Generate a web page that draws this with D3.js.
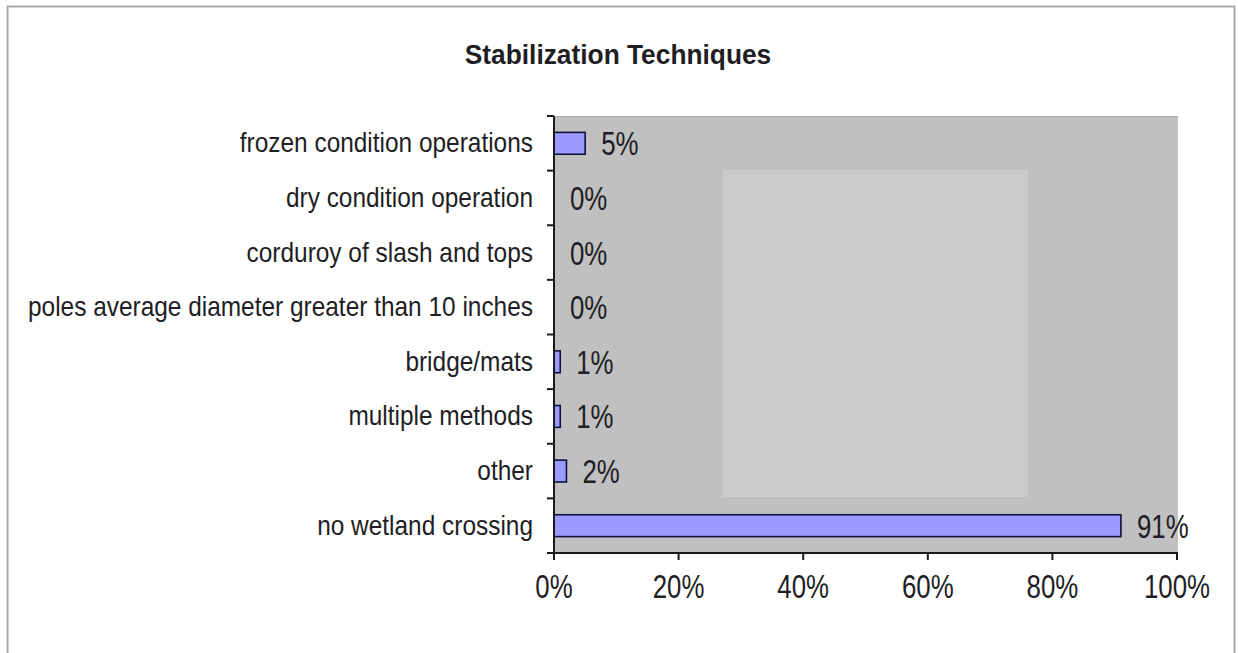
<!DOCTYPE html>
<html>
<head>
<meta charset="utf-8">
<script src="https://cdn.jsdelivr.net/npm/d3@7"></script>
<style>
  html, body { margin: 0; padding: 0; background: #fff; }
  svg { display: block; }
  text { font-family: "Liberation Sans", Arial, sans-serif; fill: #1e1e24; }
</style>
</head>
<body>
<svg id="chart" width="1238" height="653"></svg>
<script>
// Share of operations by wetland stabilization technique
const categories = [
  "frozen condition operations",
  "dry condition operation",
  "corduroy of slash and tops",
  "poles average diameter greater than 10 inches",
  "bridge/mats",
  "multiple methods",
  "other",
  "no wetland crossing"
];
const shares = [5, 0, 0, 0, 1, 1, 2, 91];
const xTicks = [0, 20, 40, 60, 80, 100];
const title = "Stabilization Techniques";

const svg = d3.select("#chart");
const plot = { left: 554, right: 1178, top: 116, bottom: 553 };

// place a text at (px, py) and narrow its glyphs horizontally by factor f
function placeNarrow(sel, px, py, f) {
  sel.attr("x", 0).attr("y", 0)
    .attr("transform", (d, i) => `translate(${px(d, i)},${py(d, i)}) scale(${f},1)`);
}

// outer frame
svg.append("rect")
  .attr("x", 7.5).attr("y", 6.5).attr("width", 1227).attr("height", 660)
  .attr("fill", "#fff").attr("stroke", "#a9a9a9").attr("stroke-width", 2);

// title
svg.append("text")
  .attr("text-anchor", "middle")
  .style("font-size", "28px").style("font-weight", "bold")
  .text(title)
  .call(placeNarrow, () => 618, () => 64, 0.94);

const x = d3.scaleLinear().domain([0, 100]).range([plot.left, plot.right - 1]);
const y = d3.scaleBand().domain(categories).range([plot.top, plot.bottom])
  .paddingInner(0.6).paddingOuter(0.3);

// plot background
svg.append("rect")
  .attr("x", plot.left).attr("y", plot.top)
  .attr("width", plot.right - plot.left).attr("height", plot.bottom - plot.top)
  .attr("fill", "#c0c0c0");
svg.append("line")
  .attr("x1", plot.left).attr("x2", plot.right)
  .attr("y1", plot.top + 0.5).attr("y2", plot.top + 0.5)
  .attr("stroke", "#a8a8a8").attr("stroke-width", 1);
// lighter panel inside the plot area
svg.append("rect")
  .attr("x", 723).attr("y", 170).attr("width", 305).attr("height", 327)
  .attr("fill", "#cbcbcb");

// bars
svg.append("g").selectAll("rect")
  .data(categories)
  .join("rect")
  .attr("x", plot.left)
  .attr("y", d => y(d))
  .attr("width", (d, i) => x(shares[i]) - plot.left)
  .attr("height", y.bandwidth())
  .attr("fill", "#9a9aff")
  .attr("stroke", "#10103a")
  .attr("stroke-width", 1.6)
  .style("display", (d, i) => shares[i] > 0 ? null : "none");

// value labels
svg.append("g").selectAll("text")
  .data(categories)
  .join("text")
  .style("font-size", "34px")
  .text((d, i) => shares[i] + "%")
  .call(placeNarrow, (d, i) => x(shares[i]) + 16, d => y(d) + y.bandwidth() / 2 + 12, 0.76);

// category axis
const yAxis = svg.append("g");
yAxis.append("line")
  .attr("x1", plot.left).attr("x2", plot.left)
  .attr("y1", plot.top).attr("y2", plot.bottom)
  .attr("stroke", "#1a1a1a").attr("stroke-width", 2);
const step = y.step();
yAxis.selectAll("line.tick")
  .data(d3.range(categories.length + 1))
  .join("line")
  .attr("class", "tick")
  .attr("x1", plot.left - 7).attr("x2", plot.left)
  .attr("y1", i => plot.top + i * step).attr("y2", i => plot.top + i * step)
  .attr("stroke", "#1a1a1a").attr("stroke-width", 2);
yAxis.selectAll("text")
  .data(categories)
  .join("text")
  .attr("text-anchor", "end")
  .style("font-size", "27px")
  .text(d => d)
  .call(placeNarrow, () => 533, d => y(d) + y.bandwidth() / 2 + 9, 0.905);

// value axis
const xAxis = svg.append("g");
xAxis.append("line")
  .attr("x1", plot.left - 1).attr("x2", plot.right)
  .attr("y1", plot.bottom).attr("y2", plot.bottom)
  .attr("stroke", "#1a1a1a").attr("stroke-width", 2);
xAxis.selectAll("line.tick")
  .data(xTicks)
  .join("line")
  .attr("class", "tick")
  .attr("x1", d => x(d)).attr("x2", d => x(d))
  .attr("y1", plot.bottom).attr("y2", plot.bottom + 7)
  .attr("stroke", "#1a1a1a").attr("stroke-width", 2);
xAxis.selectAll("text")
  .data(xTicks)
  .join("text")
  .attr("text-anchor", "middle")
  .style("font-size", "34px")
  .text(d => d + "%")
  .call(placeNarrow, d => x(d), () => 598, 0.76);
</script>
</body>
</html>
